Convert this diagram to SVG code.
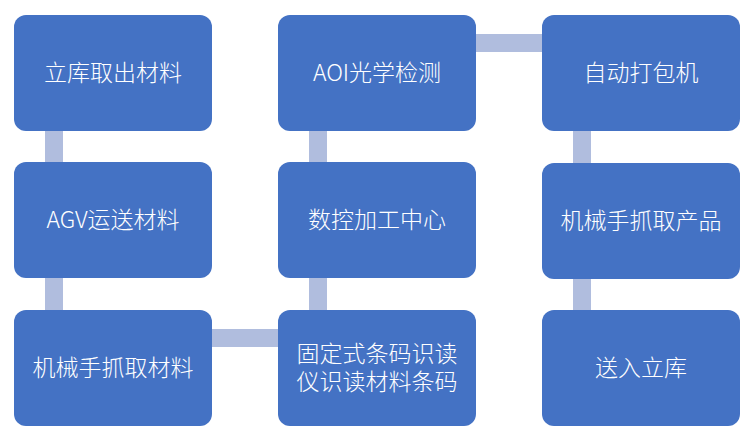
<svg xmlns="http://www.w3.org/2000/svg" width="744" height="436" viewBox="0 0 744 436">
<style>
.box{fill:#4472C4;}
.bar{fill:#B0BDDE;}
text{font-family:"Noto Sans CJK SC","Noto Sans",sans-serif;font-size:23px;font-weight:300;fill:#FFFFFF;text-anchor:middle;dominant-baseline:central;}
</style>
<rect width="744" height="436" fill="#FFFFFF"/>
<g id="connectors">
<rect class="bar" x="45" y="131" width="18" height="31"/>
<rect class="bar" x="45" y="278" width="18" height="32"/>
<rect class="bar" x="212" y="329" width="66" height="18"/>
<rect class="bar" x="309" y="278" width="18" height="32"/>
<rect class="bar" x="309" y="131" width="18" height="31"/>
<rect class="bar" x="476" y="34" width="66" height="18"/>
<rect class="bar" x="573" y="131" width="18" height="32"/>
<rect class="bar" x="573" y="279" width="18" height="31"/>
</g>
<g id="n1"><rect class="box" x="14" y="15" width="198" height="116" rx="12"/><text x="113" y="71">立库取出材料</text></g>
<g id="n2"><rect class="box" x="14" y="162" width="198" height="116" rx="12"/><text x="113" y="218">AGV运送材料</text></g>
<g id="n3"><rect class="box" x="14" y="310" width="198" height="116" rx="12"/><text x="113" y="366">机械手抓取材料</text></g>
<g id="n4"><rect class="box" x="278" y="310" width="198" height="116" rx="12"/><text x="377" y="352">固定式条码识读</text><text x="377" y="380">仪识读材料条码</text></g>
<g id="n5"><rect class="box" x="278" y="162" width="198" height="116" rx="12"/><text x="377" y="218">数控加工中心</text></g>
<g id="n6"><rect class="box" x="278" y="15" width="198" height="116" rx="12"/><text x="377" y="71">AOI光学检测</text></g>
<g id="n7"><rect class="box" x="542" y="15" width="198" height="116" rx="12"/><text x="641" y="71">自动打包机</text></g>
<g id="n8"><rect class="box" x="542" y="163" width="198" height="116" rx="12"/><text x="641" y="219">机械手抓取产品</text></g>
<g id="n9"><rect class="box" x="542" y="310" width="198" height="116" rx="12"/><text x="641" y="366">送入立库</text></g>
</svg>
